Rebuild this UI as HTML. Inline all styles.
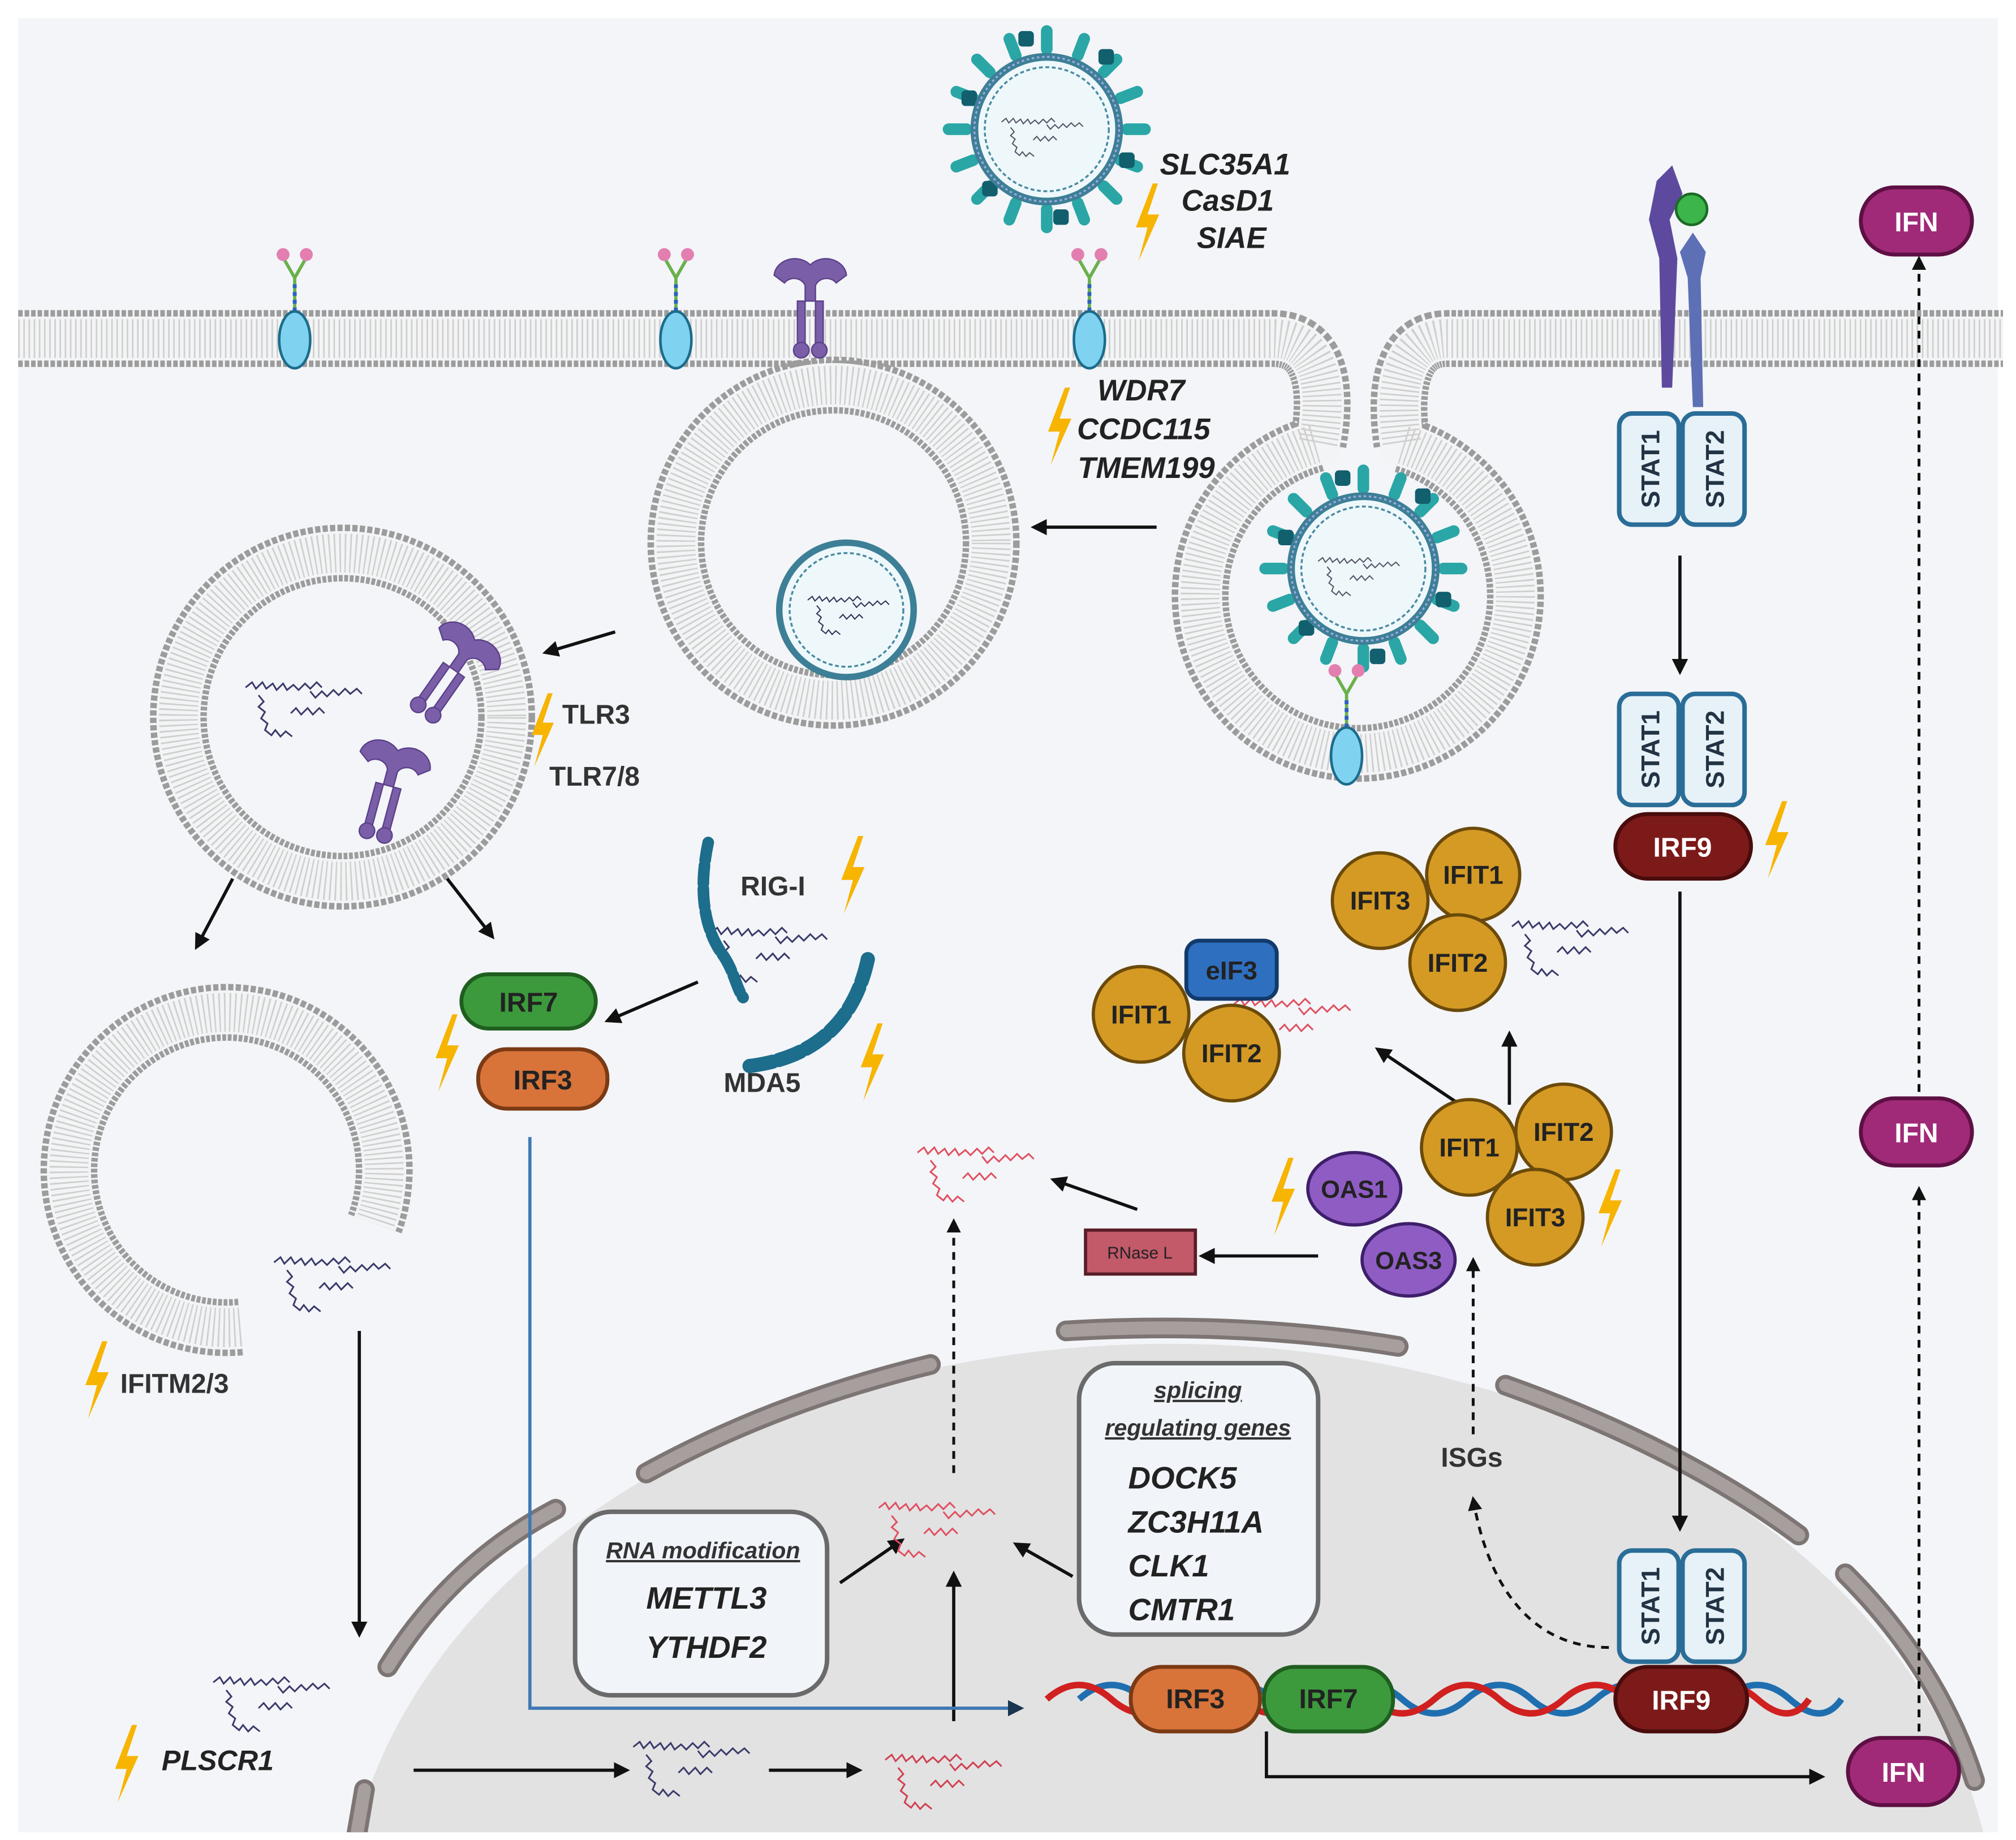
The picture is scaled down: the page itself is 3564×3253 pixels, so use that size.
<!DOCTYPE html>
<html><head><meta charset="utf-8"><style>
html,body{margin:0;padding:0;background:#fff;width:3564px;height:3253px;overflow:hidden}
svg{display:block}
text{font-family:"Liberation Sans",sans-serif}
</style></head><body>
<svg width="3564" height="3253" viewBox="0 0 1560 1424" xmlns="http://www.w3.org/2000/svg">
<defs>
<marker id="ah" viewBox="0 0 10 10" refX="8" refY="5" markerWidth="5" markerHeight="5" orient="auto"><path d="M0,0L10,5L0,10Z" fill="#111"/></marker>
<marker id="ahb" viewBox="0 0 10 10" refX="8" refY="5" markerWidth="5" markerHeight="5" orient="auto"><path d="M0,0L10,5L0,10Z" fill="#1a3550"/></marker>
<g id="bolt"><path d="M4,-30 L-9,4 L0,4 L-7,30 L9,-6 L0,-6 L8,-30Z" fill="#f7b400"/></g>
<g id="rna" fill="none" stroke-width="1.3">
<path d="M-50,-8 l5,-4 l3,5 l5,-5 l3,5 l5,-4 l3,5 l5,-5 l3,5 l5,-4 l4,4 l5,-5 l4,4 l5,-5 l4,4"/>
<path d="M-40,-2 l4,5 l-4,4 l5,4 l-3,5 l5,4 l-2,5 l5,4 l3,-4 l4,5 l4,-4 l5,4"/>
<path d="M0,-5 l4,5 l5,-5 l4,4 l5,-5 l4,4 l5,-5 l4,4 l5,-4 l4,4"/>
<path d="M-15,12 l4,-4 l4,5 l5,-5 l4,5 l5,-5 l4,4"/>
</g>
<g id="rec"><path d="M0,-22 V-48 M0,-48 L-8,-62 M0,-48 L8,-62" stroke="#6ab04c" stroke-width="2.5" fill="none"/><path d="M0,-22V-44" stroke="#2f5fbf" stroke-width="3" stroke-dasharray="3 3"/><circle cx="-9" cy="-66" r="5" fill="#e37fb0"/><circle cx="9" cy="-66" r="5" fill="#e37fb0"/><ellipse cx="0" cy="0" rx="12" ry="22" fill="#7fd3f0" stroke="#1c6c8c" stroke-width="2"/></g>
<g id="tlr" fill="#7a5ea8" stroke="#5a3f88" stroke-width="1"><path d="M-28,-22 a16,14 0 0 1 28,-8 a16,14 0 0 1 28,8 l-8,6 a9,8 0 0 0 -16,2 l0,12 h-8 l0,-12 a9,8 0 0 0 -16,-2Z"/><rect x="-10" y="-2" width="6" height="36"/><rect x="4" y="-2" width="6" height="36"/><circle cx="-7" cy="36" r="6"/><circle cx="7" cy="36" r="6"/></g>
<g id="virus">
<g stroke="#2aa6a6" stroke-width="9" stroke-linecap="round">
<line x1="0" y1="-62" x2="0" y2="-76"/><line x1="0" y1="62" x2="0" y2="76"/><line x1="-62" y1="0" x2="-76" y2="0"/><line x1="62" y1="0" x2="76" y2="0"/>
<line x1="44" y1="44" x2="54" y2="54"/><line x1="-44" y1="44" x2="-54" y2="54"/><line x1="44" y1="-44" x2="54" y2="-54"/><line x1="-44" y1="-44" x2="-54" y2="-54"/>
<line x1="24" y1="-57" x2="29" y2="-70"/><line x1="-24" y1="-57" x2="-29" y2="-70"/><line x1="24" y1="57" x2="29" y2="70"/><line x1="-24" y1="57" x2="-29" y2="70"/>
<line x1="57" y1="24" x2="70" y2="29"/><line x1="-57" y1="24" x2="-70" y2="29"/><line x1="57" y1="-24" x2="70" y2="-29"/><line x1="-57" y1="-24" x2="-70" y2="-29"/>
</g>
<g fill="#125f6e"><rect x="40" y="-62" width="12" height="12" rx="3"/><rect x="-66" y="-30" width="12" height="12" rx="3"/><rect x="56" y="18" width="12" height="12" rx="3"/><rect x="-50" y="40" width="12" height="12" rx="3"/><rect x="5" y="62" width="12" height="12" rx="3"/><rect x="-22" y="-76" width="12" height="12" rx="3"/></g>
<circle r="56" fill="#eef8fb" stroke="#3d7f96" stroke-width="6"/>
<circle r="56" fill="none" stroke="#9ad" stroke-width="1.5" stroke-dasharray="2 2"/>
<circle r="48" fill="none" stroke="#4a8aa0" stroke-width="1.5" stroke-dasharray="3 2"/>
<use href="#rna" stroke="#556" transform="scale(0.7)"/>
</g>
</defs>
<rect width="1560" height="1424" fill="#fff"/>
<rect x="14" y="14" width="1532" height="1404" fill="#f3f5f8"/>

<clipPath id="cl"><rect x="14" y="14" width="1532" height="1404"/></clipPath>
<g clip-path="url(#cl)">
<ellipse cx="905" cy="1500" rx="640" ry="460" fill="#e2e2e3"/>
<g fill="none" stroke-linecap="round">
<g stroke="#7c7573" stroke-width="16">
<path d="M300,1290 Q350,1210 430,1168"/><path d="M500,1140 Q600,1085 720,1056"/><path d="M825,1030 Q960,1022 1082,1042"/><path d="M1165,1072 Q1300,1120 1392,1188"/><path d="M1428,1218 Q1500,1290 1528,1378"/><path d="M282,1385 L276,1420"/>
</g>
<g stroke="#a69f9d" stroke-width="10">
<path d="M300,1290 Q350,1210 430,1168"/><path d="M500,1140 Q600,1085 720,1056"/><path d="M825,1030 Q960,1022 1082,1042"/><path d="M1165,1072 Q1300,1120 1392,1188"/><path d="M1428,1218 Q1500,1290 1528,1378"/><path d="M282,1385 L276,1420"/>
</g></g>
</g>

<g fill="none">
<path id="p1" d="M14,262 H985 C1022,262 1028,300 1020,343 A122,122 0 1 0 1085,344 C1078,300 1085,262 1120,262 H1550"/>
<circle id="c1" cx="645" cy="420" r="122"/>
<circle id="c2" cx="265" cy="555" r="127"/>
<path id="a3" d="M186,1027 A122,122 0 1 1 290,947"/>
</g>
<g fill="none">
<use href="#p1" stroke="#9c9c9c" stroke-width="44" stroke-dasharray="3.5 1.5"/>
<use href="#p1" stroke="#f3f4f5" stroke-width="34"/>
<use href="#p1" stroke="#cfcfcf" stroke-width="30" stroke-dasharray="1.2 2.8"/>
<use href="#c1" stroke="#9c9c9c" stroke-width="44" stroke-dasharray="3.5 1.5"/>
<use href="#c1" stroke="#f3f4f5" stroke-width="34"/>
<use href="#c1" stroke="#cfcfcf" stroke-width="30" stroke-dasharray="1.2 2.8"/>
<use href="#c2" stroke="#9c9c9c" stroke-width="44" stroke-dasharray="3.5 1.5"/>
<use href="#c2" stroke="#f3f4f5" stroke-width="34"/>
<use href="#c2" stroke="#cfcfcf" stroke-width="30" stroke-dasharray="1.2 2.8"/>
<use href="#a3" stroke="#9c9c9c" stroke-width="44" stroke-dasharray="3.5 1.5"/>
<use href="#a3" stroke="#f3f4f5" stroke-width="34"/>
<use href="#a3" stroke="#cfcfcf" stroke-width="30" stroke-dasharray="1.2 2.8"/>
</g>

<use href="#virus" transform="translate(810,100)"/>
<use href="#virus" transform="translate(1055,440)"/>
<circle cx="655" cy="472" r="52" fill="#eef8fb" stroke="#3d7f96" stroke-width="5"/>
<circle cx="655" cy="472" r="44" fill="none" stroke="#4a8aa0" stroke-width="1.5" stroke-dasharray="3 2"/>
<use href="#rna" stroke="#335" transform="translate(660,470) scale(0.7)"/>

<use href="#rec" transform="translate(228,263)"/>
<use href="#rec" transform="translate(523,263)"/>
<use href="#rec" transform="translate(843,263)"/>
<use href="#rec" transform="translate(1042,585)"/>
<use href="#tlr" transform="translate(627,235)"/>
<use href="#tlr" transform="translate(350,520) rotate(35)"/>
<use href="#tlr" transform="translate(300,610) rotate(15)"/>

<g font-weight="bold" font-style="italic" font-size="23" fill="#222" text-anchor="middle">
<text x="948" y="135">SLC35A1</text><text x="950" y="163">CasD1</text><text x="953" y="192">SIAE</text>
<text x="883" y="310">WDR7</text><text x="885" y="340">CCDC115</text><text x="887" y="370">TMEM199</text>
</g>
<use href="#bolt" transform="translate(888,172)"/>
<use href="#bolt" transform="translate(820,330)"/>

<g stroke="#111" stroke-width="2.5" fill="none" marker-end="url(#ah)">
<line x1="895" y1="408" x2="800" y2="408"/>
<line x1="476" y1="489" x2="422" y2="505"/>
<line x1="180" y1="680" x2="152" y2="733"/>
<line x1="346" y1="680" x2="381" y2="725"/>
<line x1="540" y1="760" x2="470" y2="790"/>
<line x1="278" y1="1030" x2="278" y2="1265"/>
<line x1="320" y1="1370" x2="485" y2="1370"/>
<line x1="595" y1="1370" x2="665" y2="1370"/>
<line x1="738" y1="1332" x2="738" y2="1218"/>
<line x1="650" y1="1225" x2="698" y2="1192"/>
<line x1="830" y1="1220" x2="786" y2="1195"/>
<line x1="1300" y1="430" x2="1300" y2="520"/>
<line x1="1300" y1="690" x2="1300" y2="1183"/>
<path d="M980,1340 V1375 H1410"/>
<line x1="1020" y1="972" x2="930" y2="972"/>
<line x1="880" y1="936" x2="815" y2="913"/>
<line x1="1168" y1="855" x2="1168" y2="800"/>
<line x1="1130" y1="855" x2="1066" y2="812"/>
</g>
<g stroke="#111" stroke-width="2.2" fill="none" stroke-dasharray="6 5" marker-end="url(#ah)">
<line x1="738" y1="1140" x2="738" y2="945"/>
<line x1="1140" y1="1110" x2="1140" y2="975"/>
<path d="M1245,1275 C1180,1275 1150,1220 1140,1160"/>
<line x1="1485" y1="1340" x2="1485" y2="920"/>
<line x1="1485" y1="845" x2="1485" y2="200"/>
</g>
<path d="M410,880 V1322 H790" stroke="#3f79b3" stroke-width="2.5" fill="none" marker-end="url(#ahb)"/>

<use href="#rna" stroke="#3a3a6a" transform="translate(240,540)"/>
<use href="#rna" stroke="#3a3a6a" transform="translate(262,985)"/>
<use href="#rna" stroke="#3a3a6a" transform="translate(215,1310)"/>
<use href="#rna" stroke="#3a3a6a" transform="translate(540,1360)"/>
<use href="#rna" stroke="#d04050" transform="translate(735,1370)"/>
<use href="#rna" stroke="#e05060" transform="translate(730,1175)"/>
<use href="#rna" stroke="#e05060" transform="translate(760,900)"/>
<use href="#rna" stroke="#e05060" transform="translate(1005,785)"/>
<use href="#rna" stroke="#3a3a6a" transform="translate(1220,725)"/>
<use href="#rna" stroke="#3a3a6a" transform="translate(600,730)"/>

<path d="M548,652 C540,690 545,720 560,740 C568,752 570,765 575,772" stroke="#1d6d8c" stroke-width="9" fill="none" stroke-dasharray="14 4" stroke-linecap="round"/>
<path d="M580,825 C620,820 660,800 672,740" stroke="#1d6d8c" stroke-width="11" fill="none" stroke-dasharray="18 5" stroke-linecap="round"/>

<g font-weight="bold" font-size="21" fill="#333">
<text x="435" y="560">TLR3</text><text x="425" y="608">TLR7/8</text>
<text x="573" y="693">RIG-I</text><text x="560" y="845">MDA5</text>
<text x="93" y="1078">IFITM2/3</text>
<text x="1115" y="1135">ISGs</text>
</g>
<text x="125" y="1370" font-weight="bold" font-style="italic" font-size="22" fill="#222">PLSCR1</text>
<use href="#bolt" transform="translate(420,565) scale(0.95)"/>
<use href="#bolt" transform="translate(660,677)"/>
<use href="#bolt" transform="translate(675,822)"/>
<use href="#bolt" transform="translate(346,815)"/>
<use href="#bolt" transform="translate(75,1068)"/>
<use href="#bolt" transform="translate(98,1365)"/>
<use href="#bolt" transform="translate(1375,650)"/>
<use href="#bolt" transform="translate(1246,935)"/>
<use href="#bolt" transform="translate(993,926)"/>
<use href="#bolt" transform="translate(851,1168)"/>
<use href="#bolt" transform="translate(482,1250)"/>

<rect x="357" y="754" width="104" height="42" rx="21" fill="#3c9a3c" stroke="#1f5e1f" stroke-width="3"/>
<text x="409" y="783" text-anchor="middle" font-weight="bold" font-size="21" fill="#222">IRF7</text>
<rect x="370" y="812" width="100" height="46" rx="22" fill="#d8733a" stroke="#7a3a14" stroke-width="3"/>
<text x="420" y="843" text-anchor="middle" font-weight="bold" font-size="21" fill="#222">IRF3</text>

<path d="M1282,140 l12,-12 l8,22 l-10,20 l6,30 l-4,100 h-8 l-2,-100 l-8,-30Z" fill="#5d4a9e"/>
<path d="M1310,180 l10,15 l-4,20 l2,100 h-8 l-4,-100 l-6,-20Z" fill="#5d6fb5"/>
<circle cx="1309" cy="162" r="12" fill="#3cb54a" stroke="#1b6b25" stroke-width="2"/>

<g id="stat">
<rect x="1253" y="320" width="46" height="86" rx="10" fill="#e6f1f8" stroke="#2a6d98" stroke-width="3.5"/>
<rect x="1302" y="320" width="48" height="86" rx="10" fill="#e6f1f8" stroke="#2a6d98" stroke-width="3.5"/>
<text transform="translate(1284,363) rotate(-90)" text-anchor="middle" font-weight="bold" font-size="20" fill="#234">STAT1</text>
<text transform="translate(1334,363) rotate(-90)" text-anchor="middle" font-weight="bold" font-size="20" fill="#234">STAT2</text>
</g>
<use href="#stat" transform="translate(0,217)"/>
<use href="#stat" transform="translate(0,880)"/>
<rect x="1250" y="630" width="105" height="50" rx="25" fill="#7c1a1a" stroke="#4a0c0c" stroke-width="3"/>
<text x="1302" y="663" text-anchor="middle" font-weight="bold" font-size="21" fill="#fff">IRF9</text>

<g font-weight="bold" font-size="21" fill="#fff" text-anchor="middle">
<rect x="1440" y="145" width="86" height="52" rx="26" fill="#a02a78" stroke="#5d1043" stroke-width="3"/><text x="1483" y="179">IFN</text>
<rect x="1440" y="850" width="86" height="52" rx="26" fill="#a02a78" stroke="#5d1043" stroke-width="3"/><text x="1483" y="884">IFN</text>
<rect x="1430" y="1345" width="86" height="52" rx="26" fill="#a02a78" stroke="#5d1043" stroke-width="3"/><text x="1473" y="1379">IFN</text>
</g>

<g stroke="#6b4a0a" stroke-width="2.5" fill="#d49a24">
<circle cx="1068" cy="697" r="37"/><circle cx="1140" cy="677" r="36"/><circle cx="1128" cy="745" r="37"/>
<circle cx="883" cy="785" r="37"/><circle cx="953" cy="815" r="37"/>
<circle cx="1137" cy="888" r="37"/><circle cx="1210" cy="876" r="37"/><circle cx="1188" cy="942" r="37"/>
</g>
<rect x="918" y="728" width="70" height="45" rx="10" fill="#2f6fc0" stroke="#123a6a" stroke-width="3"/>
<g font-weight="bold" font-size="20" fill="#222" text-anchor="middle">
<text x="1068" y="704">IFIT3</text><text x="1140" y="684">IFIT1</text><text x="1128" y="752">IFIT2</text>
<text x="883" y="792">IFIT1</text><text x="953" y="822">IFIT2</text><text x="953" y="758">eIF3</text>
<text x="1137" y="895">IFIT1</text><text x="1210" y="883">IFIT2</text><text x="1188" y="949">IFIT3</text>
</g>
<ellipse cx="1048" cy="920" rx="36" ry="28" fill="#8f5cc4" stroke="#3e1f6a" stroke-width="2.5"/>
<ellipse cx="1090" cy="975" rx="36" ry="28" fill="#8f5cc4" stroke="#3e1f6a" stroke-width="2.5"/>
<g font-weight="bold" font-size="19" fill="#222" text-anchor="middle"><text x="1048" y="927">OAS1</text><text x="1090" y="982">OAS3</text></g>
<rect x="840" y="952" width="85" height="34" fill="#c25a6a" stroke="#5a1e28" stroke-width="2.5"/>
<text x="882" y="974" text-anchor="middle" font-size="13" fill="#222">RNase L</text>

<rect x="445" y="1170" width="195" height="142" rx="28" fill="#f1f5fa" stroke="#6a6a6a" stroke-width="3.5"/>
<text x="544" y="1206" text-anchor="middle" font-weight="bold" font-style="italic" font-size="18" fill="#333" text-decoration="underline">RNA modification</text>
<g font-weight="bold" font-style="italic" font-size="24" fill="#222"><text x="500" y="1245">METTL3</text><text x="500" y="1283">YTHDF2</text></g>
<rect x="835" y="1055" width="185" height="210" rx="28" fill="#f1f5fa" stroke="#6a6a6a" stroke-width="3.5"/>
<g font-weight="bold" font-style="italic" font-size="18" fill="#333" text-anchor="middle" text-decoration="underline"><text x="927" y="1082">splicing</text><text x="927" y="1111">regulating genes</text></g>
<g font-weight="bold" font-style="italic" font-size="24" fill="#222"><text x="873" y="1152">DOCK5</text><text x="873" y="1186">ZC3H11A</text><text x="873" y="1220">CLK1</text><text x="873" y="1254">CMTR1</text></g>

<path d="M810,1315 q25,-22 50,0 t50,0 t50,0 t50,0 t50,0 t50,0 t50,0 t50,0 t50,0 t50,0 t50,0 t40,0" stroke="#1f6fb0" stroke-width="5" fill="none" transform="translate(25,0)"/>
<path d="M810,1315 q25,-22 50,0 t50,0 t50,0 t50,0 t50,0 t50,0 t50,0 t50,0 t50,0 t50,0 t50,0 t40,0" stroke="#d02020" stroke-width="5" fill="none"/>
<rect x="875" y="1290" width="100" height="50" rx="24" fill="#d8733a" stroke="#7a3a14" stroke-width="3"/>
<text x="925" y="1322" text-anchor="middle" font-weight="bold" font-size="21" fill="#222">IRF3</text>
<rect x="978" y="1290" width="100" height="50" rx="24" fill="#3c9a3c" stroke="#1f5e1f" stroke-width="3"/>
<text x="1028" y="1322" text-anchor="middle" font-weight="bold" font-size="21" fill="#222">IRF7</text>
<rect x="1250" y="1290" width="102" height="50" rx="25" fill="#7c1a1a" stroke="#4a0c0c" stroke-width="3"/>
<text x="1301" y="1323" text-anchor="middle" font-weight="bold" font-size="21" fill="#fff">IRF9</text>
</svg>
</body></html>
